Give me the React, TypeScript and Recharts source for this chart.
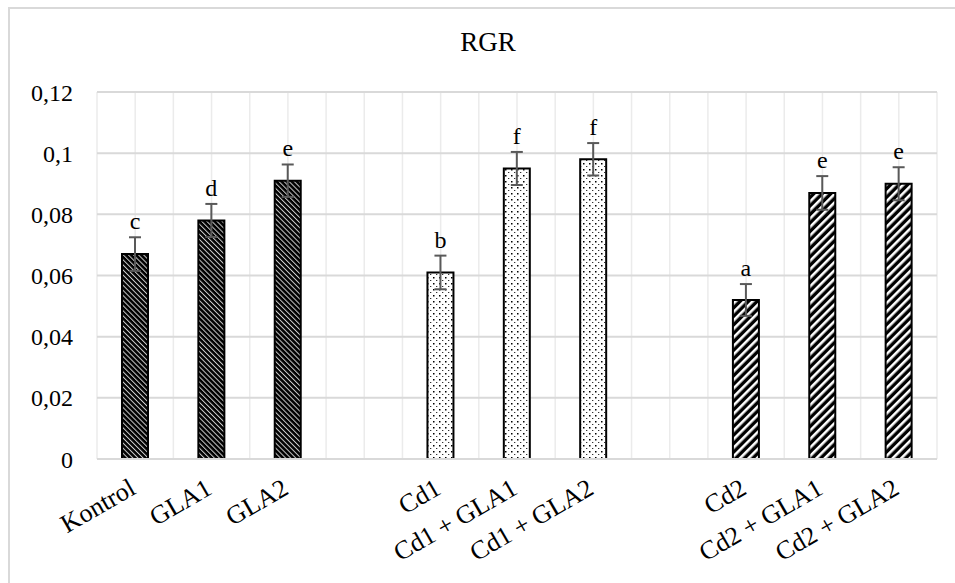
import { BarChart, Bar, XAxis, YAxis, CartesianGrid, ErrorBar, Cell, LabelList } from 'recharts'

const categories = ['Kontrol', 'GLA1', 'GLA2', '', 'Cd1', 'Cd1 + GLA1', 'Cd1 + GLA2', '', 'Cd2', 'Cd2 + GLA1', 'Cd2 + GLA2']
const rgr = [0.067, 0.078, 0.091, null, 0.061, 0.095, 0.098, null, 0.052, 0.087, 0.090]
const errors = [0.0055, 0.0054, 0.0053, null, 0.0055, 0.0054, 0.0053, null, 0.0052, 0.0055, 0.0054]
const letters = ['c', 'd', 'e', '', 'b', 'f', 'f', '', 'a', 'e', 'e']
const groups = ['ctrl', 'ctrl', 'ctrl', '', 'cd1', 'cd1', 'cd1', '', 'cd2', 'cd2', 'cd2']
const yTicks = [0, 0.02, 0.04, 0.06, 0.08, 0.1, 0.12]

const data = categories.map((name, i) => ({ name, value: rgr[i], err: errors[i], idx: i }))

const FONT = '"Liberation Serif", "Times New Roman", serif'
const fillFor: Record<string, string> = { ctrl: 'url(#patCtrl)', cd1: 'url(#patCd1)', cd2: 'url(#patCd2)' }

function Patterns() {
  return (
    <svg width={0} height={0} style={{ position: 'absolute' }}>
      <defs>
        {/* black with thin white "\" lines */}
        <pattern id="patCtrl" width={3.6} height={10} patternUnits="userSpaceOnUse" patternTransform="rotate(-45)">
          <rect width={3.6} height={10} fill="#000" />
          <rect width={1} height={10} fill="#fff" opacity={0.8} />
        </pattern>
        {/* white with black dots */}
        <pattern id="patCd1" width={6} height={6} patternUnits="userSpaceOnUse">
          <rect width={6} height={6} fill="#fff" />
          <rect x={1} y={1} width={1.5} height={1.5} fill="#000" />
          <rect x={4} y={4} width={1.3} height={1} fill="#333" />
        </pattern>
        {/* black with thick white "/" stripes */}
        <pattern id="patCd2" width={6} height={10} patternUnits="userSpaceOnUse" patternTransform="rotate(45)">
          <rect width={6} height={10} fill="#000" />
          <rect width={2.6} height={10} fill="#fff" />
        </pattern>
      </defs>
    </svg>
  )
}

function XTick({ x, y, payload }: any) {
  const tx = x + 2
  const ty = y + 26
  return (
    <text x={tx} y={ty} transform={`rotate(-30, ${tx}, ${ty})`} textAnchor="end" fontFamily={FONT} fontSize={26} fill="#000">
      {payload.value}
    </text>
  )
}

// letter sits a little above the top of the error bar
function Letter(props: any) {
  const { x, y, width, height, value } = props
  const v = rgr[value]
  const e = errors[value]
  if (v == null || e == null) return null
  const errPx = (e * height) / v
  return (
    <text x={x + width / 2} y={y - errPx - 8} textAnchor="middle" fontFamily={FONT} fontSize={24} fill="#000">
      {letters[value]}
    </text>
  )
}

export default function App() {
  return (
    <div style={{ position: 'absolute', left: 0, top: 0, width: 955, height: 583, background: '#fff', overflow: 'hidden' }}>
      <Patterns />
      <div style={{ position: 'absolute', left: 8, top: 7, width: 980, height: 600, border: '2px solid #d9d9d9', boxSizing: 'border-box' }} />
      <svg width={955} height={80} style={{ position: 'absolute', left: 0, top: 0 }}>
        <text x={488} y={51} textAnchor="middle" fontFamily={FONT} fontSize={27} fill="#000">RGR</text>
      </svg>
      <div style={{ position: 'absolute', left: 0, top: 0 }}>
        <BarChart width={955} height={583} data={data} margin={{ top: 92, right: 18, left: 0, bottom: 0 }}>
          <CartesianGrid
            horizontal={false}
            stroke="#ebebeb"
            strokeWidth={1.5}
            verticalCoordinatesGenerator={({ offset }: any) =>
              Array.from({ length: categories.length * 2 + 1 }, (_, i) => offset.left + (i * offset.width) / (categories.length * 2))
            }
          />
          <CartesianGrid vertical={false} stroke="#d9d9d9" strokeWidth={2} />
          <XAxis
            dataKey="name"
            interval={0}
            height={124}
            tick={<XTick />}
            tickLine={false}
            axisLine={{ stroke: '#d9d9d9', strokeWidth: 2 }}
          />
          <YAxis
            domain={[0, 0.12]}
            ticks={yTicks}
            width={97}
            tickLine={false}
            axisLine={false}
            tickMargin={18}
            tickFormatter={(v: number) => String(v).replace('.', ',')}
            tick={{ fontFamily: FONT, fontSize: 24, fill: '#000' }}
          />
          <Bar dataKey="value" barSize={26} stroke="#000" strokeWidth={2} isAnimationActive={false}>
            {data.map((_, i) => (
              <Cell key={i} fill={fillFor[groups[i]] ?? 'none'} />
            ))}
            <ErrorBar dataKey="err" width={6} stroke="#595959" strokeWidth={2} direction="y" />
            <LabelList dataKey="idx" content={<Letter />} />
          </Bar>
        </BarChart>
      </div>
    </div>
  )
}
